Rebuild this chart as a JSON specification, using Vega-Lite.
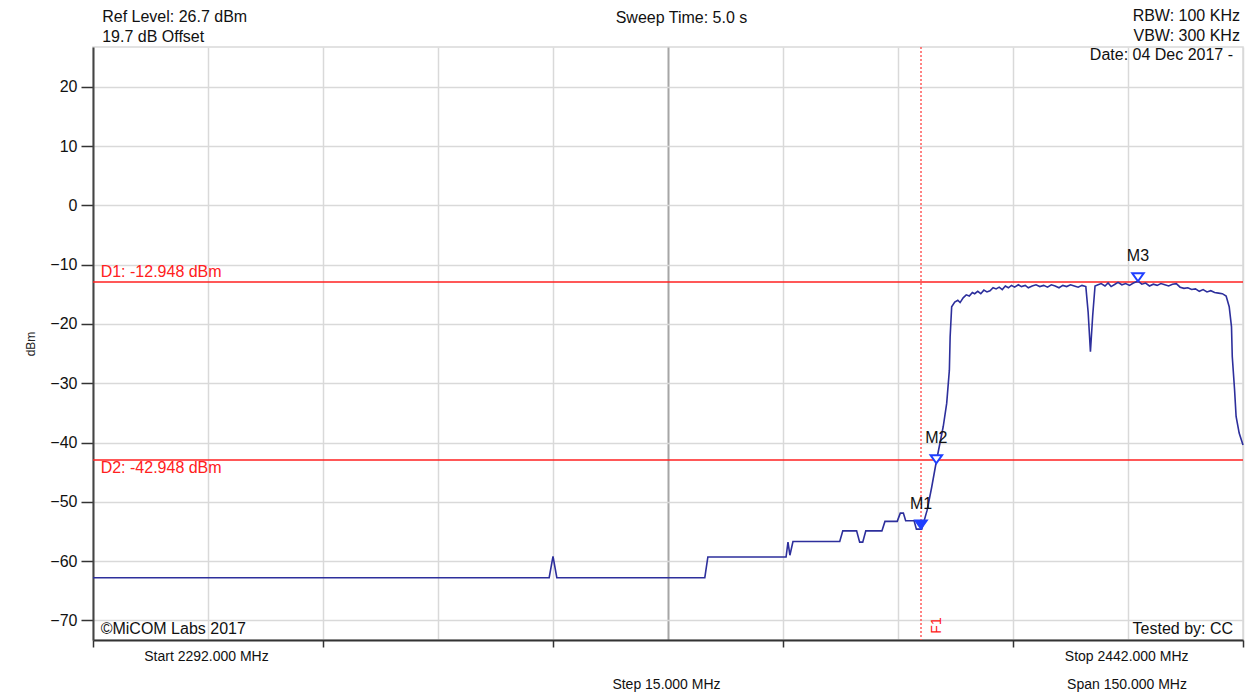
{
  "$schema": "https://vega.github.io/schema/vega-lite/v6.json",
  "width": 1150,
  "height": 593,
  "autosize": {"type": "none"},
  "padding": {"left": 93, "top": 47, "right": 7, "bottom": 56},
  "background": "white",
  "config": {
    "view": {"stroke": "#d9d9d9", "strokeWidth": 1.5},
    "font": "Liberation Sans",
    "text": {"font": "Liberation Sans", "color": "#111111"}
  },
  "datasets": {
    "trace": [
      {"f": 2292.0, "db": -62.8}, {"f": 2351.5, "db": -62.8}, {"f": 2352.0, "db": -59.2}, {"f": 2352.5, "db": -62.8},
      {"f": 2371.8, "db": -62.8}, {"f": 2372.2, "db": -59.3}, {"f": 2382.4, "db": -59.3}, {"f": 2382.65, "db": -56.8},
      {"f": 2382.9, "db": -59.0}, {"f": 2383.3, "db": -56.7}, {"f": 2389.4, "db": -56.7}, {"f": 2389.8, "db": -54.9},
      {"f": 2391.6, "db": -54.9}, {"f": 2392.0, "db": -56.8}, {"f": 2392.4, "db": -56.8}, {"f": 2392.8, "db": -54.9},
      {"f": 2394.9, "db": -54.9}, {"f": 2395.3, "db": -53.3}, {"f": 2396.9, "db": -53.3}, {"f": 2397.3, "db": -51.9},
      {"f": 2397.7, "db": -51.9}, {"f": 2398.0, "db": -53.2}, {"f": 2399.1, "db": -53.2}, {"f": 2399.4, "db": -54.6},
      {"f": 2400.1, "db": -54.6}, {"f": 2400.8, "db": -51.4}, {"f": 2401.4, "db": -47.5}, {"f": 2402.0, "db": -43.2},
      {"f": 2402.9, "db": -37.3}, {"f": 2403.35, "db": -33.4}, {"f": 2403.7, "db": -27.8}, {"f": 2403.8, "db": -22.2},
      {"f": 2404.0, "db": -17.1}, {"f": 2404.4, "db": -16.3}, {"f": 2404.8, "db": -16.0}, {"f": 2405.1, "db": -16.4},
      {"f": 2405.5, "db": -15.6}, {"f": 2405.9, "db": -15.1}, {"f": 2406.3, "db": -15.3}, {"f": 2406.7, "db": -14.7},
      {"f": 2407.0, "db": -14.9}, {"f": 2407.4, "db": -14.5}, {"f": 2407.8, "db": -14.9}, {"f": 2408.2, "db": -14.3},
      {"f": 2408.6, "db": -14.6}, {"f": 2409.0, "db": -14.4}, {"f": 2409.4, "db": -13.9}, {"f": 2409.8, "db": -14.1},
      {"f": 2410.2, "db": -13.8}, {"f": 2410.6, "db": -14.2}, {"f": 2411.0, "db": -13.6}, {"f": 2411.4, "db": -13.9},
      {"f": 2411.8, "db": -13.5}, {"f": 2412.2, "db": -13.8}, {"f": 2412.7, "db": -13.4}, {"f": 2413.1, "db": -13.7},
      {"f": 2413.6, "db": -13.5}, {"f": 2414.0, "db": -13.9}, {"f": 2414.5, "db": -13.6}, {"f": 2415.0, "db": -13.4},
      {"f": 2415.5, "db": -13.7}, {"f": 2416.0, "db": -13.5}, {"f": 2416.5, "db": -13.8}, {"f": 2417.0, "db": -13.4},
      {"f": 2417.5, "db": -13.6}, {"f": 2418.0, "db": -13.9}, {"f": 2418.5, "db": -13.5}, {"f": 2419.0, "db": -13.7},
      {"f": 2419.5, "db": -13.4}, {"f": 2420.0, "db": -13.6}, {"f": 2420.5, "db": -13.8}, {"f": 2421.0, "db": -13.5},
      {"f": 2421.5, "db": -13.7}, {"f": 2421.8, "db": -18.0}, {"f": 2422.1, "db": -24.7}, {"f": 2422.4, "db": -18.5},
      {"f": 2422.7, "db": -13.6}, {"f": 2423.1, "db": -13.4}, {"f": 2423.5, "db": -13.2}, {"f": 2424.0, "db": -13.6},
      {"f": 2424.4, "db": -13.1}, {"f": 2424.8, "db": -13.7}, {"f": 2425.3, "db": -13.3}, {"f": 2425.7, "db": -13.0},
      {"f": 2426.2, "db": -13.4}, {"f": 2426.7, "db": -13.2}, {"f": 2427.2, "db": -13.5}, {"f": 2427.7, "db": -13.1},
      {"f": 2428.3, "db": -12.8}, {"f": 2428.8, "db": -13.3}, {"f": 2429.3, "db": -13.1}, {"f": 2429.8, "db": -13.6},
      {"f": 2430.3, "db": -13.3}, {"f": 2430.8, "db": -13.5}, {"f": 2431.3, "db": -13.2}, {"f": 2431.8, "db": -13.4},
      {"f": 2432.3, "db": -13.6}, {"f": 2432.8, "db": -13.3}, {"f": 2433.3, "db": -13.2}, {"f": 2433.8, "db": -13.8},
      {"f": 2434.3, "db": -14.0}, {"f": 2434.8, "db": -13.9}, {"f": 2435.3, "db": -14.2}, {"f": 2435.8, "db": -14.1},
      {"f": 2436.3, "db": -14.5}, {"f": 2436.8, "db": -14.2}, {"f": 2437.3, "db": -14.6}, {"f": 2437.8, "db": -14.4},
      {"f": 2438.3, "db": -14.7}, {"f": 2438.8, "db": -14.8}, {"f": 2439.3, "db": -14.9}, {"f": 2439.8, "db": -15.3},
      {"f": 2440.2, "db": -17.1}, {"f": 2440.5, "db": -20.5}, {"f": 2440.6, "db": -25.5}, {"f": 2440.9, "db": -31.1},
      {"f": 2441.1, "db": -35.6}, {"f": 2441.5, "db": -38.4}, {"f": 2442.0, "db": -40.4}
    ],
    "limits": [
      {"name": "D1", "db": -12.948},
      {"name": "D2", "db": -42.948}
    ],
    "freqline": [
      {"name": "F1", "f": 2400.0}
    ],
    "markers": [
      {"name": "M1", "f": 2400.0, "db": -54.5, "state": "active"},
      {"name": "M2", "f": 2402.0, "db": -43.5, "state": "normal"},
      {"name": "M3", "f": 2428.3, "db": -12.8, "state": "normal"}
    ]
  },
  "layer": [
    {
      "data": {"name": "limits"},
      "mark": {"type": "rule", "color": "#ff2020", "strokeWidth": 1.5},
      "encoding": {
        "y": {"field": "db", "type": "quantitative", "title": "dBm",
              "scale": {"domain": [-73.3, 26.7], "nice": false, "zero": false},
              "axis": {
                "values": [-70, -60, -50, -40, -30, -20, -10, 0, 10, 20],
                "title": "dBm", "titleFont": "Liberation Sans", "titleFontSize": 12, "titleFontWeight": "normal",
                "titleColor": "#222222", "titlePadding": 12,
                "grid": true, "gridColor": "#d9d9d9", "gridWidth": 1.5,
                "domainColor": "#444444", "domainWidth": 2,
                "tickColor": "#333333", "tickSize": 12, "tickWidth": 1.5,
                "labelFont": "Liberation Sans", "labelFontSize": 16, "labelColor": "#111111", "labelPadding": 4
              }}
      }
    },
    {
      "data": {"name": "freqline"},
      "mark": {"type": "rule", "color": "#ff5a5a", "strokeWidth": 1.5, "strokeDash": [2, 2]},
      "encoding": {
        "x": {"field": "f", "type": "quantitative", "title": null,
              "scale": {"domain": [2292, 2442], "nice": false, "zero": false},
              "axis": {
                "values": [2292, 2307, 2322, 2337, 2352, 2367, 2382, 2397, 2412, 2427, 2442],
                "title": null, "labels": false,
                "grid": true,
                "gridColor": {"condition": {"test": "datum.value === 2367", "value": "#a6a6a6"}, "value": "#d9d9d9"},
                "gridWidth": {"condition": {"test": "datum.value === 2367", "value": 2}, "value": 1.5},
                "domainColor": "#333333", "domainWidth": 2,
                "tickColor": "#333333", "tickSize": 7, "tickWidth": 1.5,
                "tickOpacity": {"condition": {"test": "(datum.value - 2292) % 30 !== 0", "value": 0}, "value": 1}
              }}
      }
    },
    {
      "data": {"name": "trace"},
      "mark": {"type": "line", "color": "#2d2f9c", "strokeWidth": 1.6, "interpolate": "linear"},
      "encoding": {
        "x": {"field": "f", "type": "quantitative", "title": null},
        "y": {"field": "db", "type": "quantitative", "title": "dBm"}
      }
    },
    {
      "data": {"name": "markers"},
      "mark": {"type": "point", "shape": "M-1,-1.4L1,-1.4L0,0Z", "size": 130, "filled": true,
               "stroke": "#1f3fff", "strokeWidth": 2, "opacity": 1},
      "encoding": {
        "x": {"field": "f", "type": "quantitative", "title": null},
        "y": {"field": "db", "type": "quantitative", "title": "dBm"},
        "fill": {"field": "state", "type": "nominal", "legend": null,
                 "scale": {"domain": ["active", "normal"], "range": ["#1f3fff", "#ffffff"]}}
      }
    },
    {
      "data": {"name": "markers"},
      "mark": {"type": "text", "fontSize": 16, "baseline": "middle", "align": "center", "dy": -25, "color": "#111111"},
      "encoding": {
        "x": {"field": "f", "type": "quantitative", "title": null},
        "y": {"field": "db", "type": "quantitative", "title": "dBm"},
        "text": {"field": "name", "type": "nominal"}
      }
    },
    {
      "data": {"values": [{}]},
      "mark": {"type": "text", "fontSize": 16, "align": "left", "baseline": "middle", "color": "#ff2020"},
      "encoding": {
        "x": {"datum": 2293.0, "type": "quantitative"},
        "y": {"datum": -11.2, "type": "quantitative"},
        "text": {"value": "D1: -12.948 dBm"}
      }
    },
    {
      "data": {"values": [{}]},
      "mark": {"type": "text", "fontSize": 16, "align": "left", "baseline": "middle", "color": "#ff2020"},
      "encoding": {
        "x": {"datum": 2293.0, "type": "quantitative"},
        "y": {"datum": -44.3, "type": "quantitative"},
        "text": {"value": "D2: -42.948 dBm"}
      }
    },
    {
      "data": {"values": [{}]},
      "mark": {"type": "text", "fontSize": 14, "align": "center", "baseline": "middle", "angle": 270, "color": "#ff2020"},
      "encoding": {
        "x": {"datum": 2402.15, "type": "quantitative"},
        "y": {"datum": -70.85, "type": "quantitative"},
        "text": {"value": "F1"}
      }
    },
    {
      "data": {"values": [{}]},
      "mark": {"type": "text", "fontSize": 16, "align": "left", "baseline": "alphabetic", "lineHeight": 20},
      "encoding": {
        "x": {"datum": 2293.2, "type": "quantitative"},
        "y": {"datum": 31.0, "type": "quantitative"},
        "text": {"value": ["Ref Level: 26.7 dBm", "19.7 dB Offset"]}
      }
    },
    {
      "data": {"values": [{}]},
      "mark": {"type": "text", "fontSize": 16, "align": "center", "baseline": "alphabetic"},
      "encoding": {
        "x": {"datum": 2368.76, "type": "quantitative"},
        "y": {"datum": 30.8, "type": "quantitative"},
        "text": {"value": "Sweep Time: 5.0 s"}
      }
    },
    {
      "data": {"values": [{}]},
      "mark": {"type": "text", "fontSize": 16, "align": "right", "baseline": "alphabetic", "lineHeight": 20},
      "encoding": {
        "x": {"datum": 2441.6, "type": "quantitative"},
        "y": {"datum": 31.1, "type": "quantitative"},
        "text": {"value": ["RBW: 100 KHz", "VBW: 300 KHz"]}
      }
    },
    {
      "data": {"values": [{}]},
      "mark": {"type": "text", "fontSize": 16, "align": "right", "baseline": "alphabetic"},
      "encoding": {
        "x": {"datum": 2440.7, "type": "quantitative"},
        "y": {"datum": 24.5, "type": "quantitative"},
        "text": {"value": "Date: 04 Dec 2017 -"}
      }
    },
    {
      "data": {"values": [{}]},
      "mark": {"type": "text", "fontSize": 16, "align": "left", "baseline": "alphabetic"},
      "encoding": {
        "x": {"datum": 2293.0, "type": "quantitative"},
        "y": {"datum": -72.3, "type": "quantitative"},
        "text": {"value": "©MiCOM Labs 2017"}
      }
    },
    {
      "data": {"values": [{}]},
      "mark": {"type": "text", "fontSize": 16, "align": "right", "baseline": "alphabetic"},
      "encoding": {
        "x": {"datum": 2440.7, "type": "quantitative"},
        "y": {"datum": -72.3, "type": "quantitative"},
        "text": {"value": "Tested by: CC"}
      }
    },
    {
      "data": {"values": [{}]},
      "mark": {"type": "text", "fontSize": 14, "align": "center", "baseline": "alphabetic"},
      "encoding": {
        "x": {"datum": 2306.8, "type": "quantitative"},
        "y": {"datum": -76.84, "type": "quantitative"},
        "text": {"value": "Start 2292.000 MHz"}
      }
    },
    {
      "data": {"values": [{}]},
      "mark": {"type": "text", "fontSize": 14, "align": "center", "baseline": "alphabetic"},
      "encoding": {
        "x": {"datum": 2426.83, "type": "quantitative"},
        "y": {"datum": -76.84, "type": "quantitative"},
        "text": {"value": "Stop 2442.000 MHz"}
      }
    },
    {
      "data": {"values": [{}]},
      "mark": {"type": "text", "fontSize": 14, "align": "center", "baseline": "alphabetic"},
      "encoding": {
        "x": {"datum": 2366.8, "type": "quantitative"},
        "y": {"datum": -81.6, "type": "quantitative"},
        "text": {"value": "Step 15.000 MHz"}
      }
    },
    {
      "data": {"values": [{}]},
      "mark": {"type": "text", "fontSize": 14, "align": "center", "baseline": "alphabetic"},
      "encoding": {
        "x": {"datum": 2426.87, "type": "quantitative"},
        "y": {"datum": -81.6, "type": "quantitative"},
        "text": {"value": "Span 150.000 MHz"}
      }
    }
  ]
}
